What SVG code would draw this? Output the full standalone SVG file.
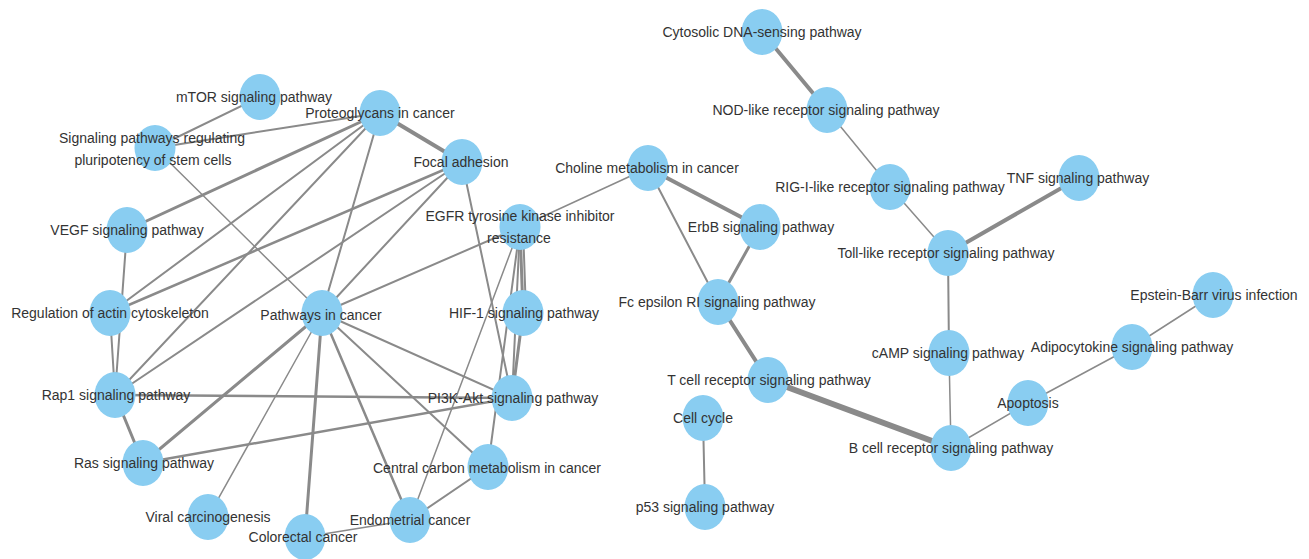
<svg xmlns="http://www.w3.org/2000/svg" width="1309" height="559" viewBox="0 0 1309 559">
<style>
.e{stroke:#8a8a8a;stroke-linecap:round;fill:none}
.w1{stroke-width:1.5}.w2{stroke-width:2}.w25{stroke-width:2.5}.w3{stroke-width:3}.w4{stroke-width:4}.w6{stroke-width:6}
.n ellipse{fill:#89CDF1}
.n text{font-family:"Liberation Sans",Arial,sans-serif;font-size:14px;fill:#333;text-anchor:middle}
</style>
<rect width="1309" height="559" fill="#fff"/>
<g id="edges">
<line class="e w4" x1="762" y1="32" x2="827" y2="110"/>
<line class="e w1" x1="827" y1="110" x2="890" y2="187"/>
<line class="e w1" x1="890" y1="187" x2="948" y2="253"/>
<line class="e w4" x1="948" y1="253" x2="1079" y2="178"/>
<line class="e w2" x1="948" y1="253" x2="949" y2="353"/>
<line class="e w1" x1="949" y1="353" x2="951" y2="448"/>
<line class="e w1" x1="951" y1="448" x2="1028" y2="403"/>
<line class="e w1" x1="1028" y1="403" x2="1132" y2="347"/>
<line class="e w1" x1="1132" y1="347" x2="1213" y2="295"/>
<line class="e w6" x1="768" y1="380" x2="951" y2="448"/>
<line class="e w4" x1="718" y1="302" x2="768" y2="380"/>
<line class="e w4" x1="648" y1="168" x2="760" y2="227"/>
<line class="e w2" x1="648" y1="168" x2="718" y2="302"/>
<line class="e w3" x1="760" y1="227" x2="718" y2="302"/>
<line class="e w2" x1="703" y1="418" x2="705" y2="507"/>
<line class="e w1" x1="648" y1="168" x2="520" y2="227"/>
<line class="e w2" x1="260" y1="97" x2="155" y2="148"/>
<line class="e w2" x1="155" y1="148" x2="380" y2="113"/>
<line class="e w1" x1="155" y1="148" x2="322" y2="313"/>
<line class="e w4" x1="380" y1="113" x2="462" y2="162"/>
<line class="e w3" x1="380" y1="113" x2="127" y2="230"/>
<line class="e w2" x1="380" y1="113" x2="110" y2="313"/>
<line class="e w2" x1="380" y1="113" x2="115" y2="395"/>
<line class="e w2" x1="380" y1="113" x2="322" y2="313"/>
<line class="e w25" x1="462" y1="162" x2="110" y2="313"/>
<line class="e w2" x1="462" y1="162" x2="115" y2="395"/>
<line class="e w2" x1="462" y1="162" x2="322" y2="313"/>
<line class="e w2" x1="462" y1="162" x2="512" y2="398"/>
<line class="e w2" x1="127" y1="230" x2="115" y2="395"/>
<line class="e w2" x1="110" y1="313" x2="115" y2="395"/>
<line class="e w3" x1="115" y1="395" x2="143" y2="463"/>
<line class="e w25" x1="115" y1="395" x2="512" y2="398"/>
<line class="e w3" x1="143" y1="463" x2="322" y2="313"/>
<line class="e w25" x1="143" y1="463" x2="512" y2="398"/>
<line class="e w1" x1="322" y1="313" x2="208" y2="517"/>
<line class="e w3" x1="322" y1="313" x2="305" y2="537"/>
<line class="e w25" x1="322" y1="313" x2="410" y2="520"/>
<line class="e w2" x1="322" y1="313" x2="488" y2="467"/>
<line class="e w2" x1="322" y1="313" x2="512" y2="398"/>
<line class="e w2" x1="322" y1="313" x2="520" y2="227"/>
<line class="e w3" x1="520" y1="227" x2="523" y2="313"/>
<line class="e w2" x1="523" y1="227" x2="526" y2="313"/>
<line class="e w2" x1="520" y1="227" x2="512" y2="398"/>
<line class="e w3" x1="523" y1="313" x2="512" y2="398"/>
<line class="e w2" x1="520" y1="227" x2="488" y2="467"/>
<line class="e w1" x1="520" y1="227" x2="410" y2="520"/>
<line class="e w2" x1="488" y1="467" x2="410" y2="520"/>
<line class="e w1" x1="305" y1="537" x2="410" y2="520"/>
</g>
<g id="n-cytosolic" class="n"><ellipse cx="762" cy="32" rx="20.5" ry="23"/><text x="762" y="37">Cytosolic DNA-sensing pathway</text></g>
<g id="n-nod" class="n"><ellipse cx="827" cy="110" rx="20.5" ry="23"/><text x="826" y="115">NOD-like receptor signaling pathway</text></g>
<g id="n-rig" class="n"><ellipse cx="890" cy="187" rx="20.5" ry="23"/><text x="890" y="192">RIG-I-like receptor signaling pathway</text></g>
<g id="n-tnf" class="n"><ellipse cx="1079" cy="178" rx="20.5" ry="23"/><text x="1078" y="183">TNF signaling pathway</text></g>
<g id="n-toll" class="n"><ellipse cx="948" cy="253" rx="20.5" ry="23"/><text x="946" y="258">Toll-like receptor signaling pathway</text></g>
<g id="n-ebv" class="n"><ellipse cx="1213" cy="295" rx="20.5" ry="23"/><text x="1214" y="300">Epstein-Barr virus infection</text></g>
<g id="n-adipo" class="n"><ellipse cx="1132" cy="347" rx="20.5" ry="23"/><text x="1132" y="352">Adipocytokine signaling pathway</text></g>
<g id="n-camp" class="n"><ellipse cx="949" cy="353" rx="20.5" ry="23"/><text x="948" y="358">cAMP signaling pathway</text></g>
<g id="n-apoptosis" class="n"><ellipse cx="1028" cy="403" rx="20.5" ry="23"/><text x="1028" y="408">Apoptosis</text></g>
<g id="n-bcell" class="n"><ellipse cx="951" cy="448" rx="20.5" ry="23"/><text x="951" y="453">B cell receptor signaling pathway</text></g>
<g id="n-tcell" class="n"><ellipse cx="768" cy="380" rx="20.5" ry="23"/><text x="769" y="385">T cell receptor signaling pathway</text></g>
<g id="n-fc" class="n"><ellipse cx="718" cy="302" rx="20.5" ry="23"/><text x="717" y="307">Fc epsilon RI signaling pathway</text></g>
<g id="n-erbb" class="n"><ellipse cx="760" cy="227" rx="20.5" ry="23"/><text x="761" y="232">ErbB signaling pathway</text></g>
<g id="n-choline" class="n"><ellipse cx="648" cy="168" rx="20.5" ry="23"/><text x="647" y="173">Choline metabolism in cancer</text></g>
<g id="n-cellcycle" class="n"><ellipse cx="703" cy="418" rx="20.5" ry="23"/><text x="703" y="423">Cell cycle</text></g>
<g id="n-p53" class="n"><ellipse cx="705" cy="507" rx="20.5" ry="23"/><text x="705" y="512">p53 signaling pathway</text></g>
<g id="n-mtor" class="n"><ellipse cx="260" cy="97" rx="20.5" ry="23"/><text x="254" y="102">mTOR signaling pathway</text></g>
<g id="n-proteo" class="n"><ellipse cx="380" cy="113" rx="20.5" ry="23"/><text x="380" y="118">Proteoglycans in cancer</text></g>
<g id="n-spr" class="n"><ellipse cx="155" cy="148" rx="20.5" ry="23"/><text x="152" y="143">Signaling pathways regulating</text><text x="153" y="165">pluripotency of stem cells</text></g>
<g id="n-focal" class="n"><ellipse cx="462" cy="162" rx="20.5" ry="23"/><text x="461" y="167">Focal adhesion</text></g>
<g id="n-vegf" class="n"><ellipse cx="127" cy="230" rx="20.5" ry="23"/><text x="127" y="235">VEGF signaling pathway</text></g>
<g id="n-egfr" class="n"><ellipse cx="520" cy="227" rx="20.5" ry="23"/><text x="520" y="221">EGFR tyrosine kinase inhibitor</text><text x="519" y="243">resistance</text></g>
<g id="n-actin" class="n"><ellipse cx="110" cy="313" rx="20.5" ry="23"/><text x="110" y="318">Regulation of actin cytoskeleton</text></g>
<g id="n-pathways" class="n"><ellipse cx="322" cy="313" rx="20.5" ry="23"/><text x="321" y="320">Pathways in cancer</text></g>
<g id="n-hif" class="n"><ellipse cx="523" cy="313" rx="20.5" ry="23"/><text x="524" y="318">HIF-1 signaling pathway</text></g>
<g id="n-rap1" class="n"><ellipse cx="115" cy="395" rx="20.5" ry="23"/><text x="116" y="400">Rap1 signaling pathway</text></g>
<g id="n-pi3k" class="n"><ellipse cx="512" cy="398" rx="20.5" ry="23"/><text x="513" y="403">PI3K-Akt signaling pathway</text></g>
<g id="n-ras" class="n"><ellipse cx="143" cy="463" rx="20.5" ry="23"/><text x="144" y="468">Ras signaling pathway</text></g>
<g id="n-central" class="n"><ellipse cx="488" cy="467" rx="20.5" ry="23"/><text x="487" y="473">Central carbon metabolism in cancer</text></g>
<g id="n-viral" class="n"><ellipse cx="208" cy="517" rx="20.5" ry="23"/><text x="208" y="522">Viral carcinogenesis</text></g>
<g id="n-endometrial" class="n"><ellipse cx="410" cy="520" rx="20.5" ry="23"/><text x="410" y="525">Endometrial cancer</text></g>
<g id="n-colorectal" class="n"><ellipse cx="305" cy="537" rx="20.5" ry="23"/><text x="303" y="542">Colorectal cancer</text></g>
</svg>
